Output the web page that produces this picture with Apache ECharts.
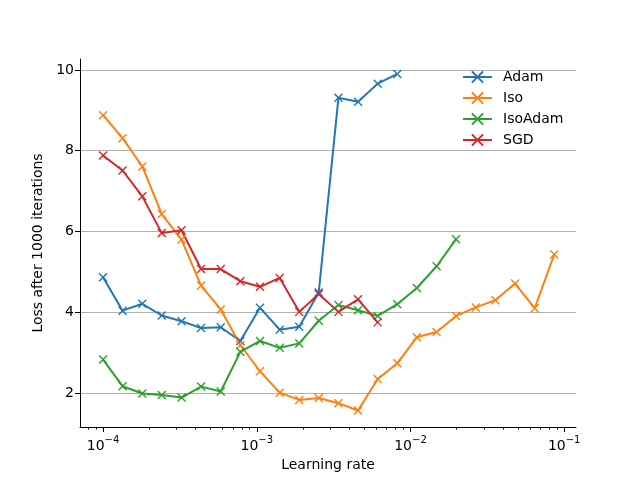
<!DOCTYPE html>
<html>
<head>
<meta charset="utf-8">
<script src="https://cdn.jsdelivr.net/npm/echarts@6/dist/echarts.min.js"></script>
<style>html,body{margin:0;padding:0;background:#fff}#c{width:640px;height:480px}</style>
</head>
<body>
<div id="c"></div>
<script>
const learningRates = [1.00e-4, 1.34e-4, 1.80e-4, 2.41e-4, 3.24e-4, 4.34e-4, 5.83e-4, 7.82e-4, 1.05e-3, 1.41e-3, 1.89e-3, 2.53e-3, 3.40e-3, 4.56e-3, 6.12e-3, 8.21e-3, 1.10e-2, 1.48e-2, 1.98e-2, 2.66e-2, 3.57e-2, 4.79e-2, 6.43e-2, 8.62e-2];
const adamLoss = [4.87, 4.04, 4.21, 3.92, 3.78, 3.61, 3.63, 3.29, 4.11, 3.57, 3.64, 4.49, 9.31, 9.21, 9.66, 9.90];
const isoLoss = [8.88, 8.31, 7.61, 6.43, 5.80, 4.66, 4.07, 3.19, 2.54, 2.01, 1.83, 1.88, 1.75, 1.57, 2.35, 2.74, 3.38, 3.51, 3.91, 4.12, 4.30, 4.71, 4.10, 5.43];
const isoAdamLoss = [2.83, 2.17, 1.99, 1.95, 1.89, 2.16, 2.04, 3.02, 3.29, 3.12, 3.23, 3.79, 4.18, 4.05, 3.91, 4.20, 4.60, 5.14, 5.81];
const sgdLoss = [7.88, 7.51, 6.87, 5.96, 6.03, 5.07, 5.07, 4.77, 4.63, 4.85, 4.01, 4.45, 4.01, 4.32, 3.75];
const seriesNames = ['Adam', 'Iso', 'IsoAdam', 'SGD'];
const seriesColors = ['#1f77b4', '#ff7f0e', '#2ca02c', '#d62728'];
const yTicks = [2, 4, 6, 8, 10];
const xMajorTicks = [1e-4, 1e-3, 1e-2, 1e-1];
const xMinorTicks = [8e-5, 9e-5, 2e-4, 3e-4, 4e-4, 5e-4, 6e-4, 7e-4, 8e-4, 9e-4, 2e-3, 3e-3, 4e-3, 5e-3, 6e-3, 7e-3, 8e-3, 9e-3, 2e-2, 3e-2, 4e-2, 5e-2, 6e-2, 7e-2, 8e-2, 9e-2];

const allLoss = [adamLoss, isoLoss, isoAdamLoss, sgdLoss];
const FONT = 'DejaVu Sans';
const X_SYM = 'path://M0,0L10,10M10,0L0,10';

const series = seriesNames.map((name, i) => ({
  name: name,
  type: 'line',
  data: allLoss[i].map((v, k) => [learningRates[k], v]),
  symbol: X_SYM,
  symbolSize: 8,
  lineStyle: { color: seriesColors[i], width: 2 },
  itemStyle: { color: seriesColors[i], borderColor: seriesColors[i], borderWidth: 1.4 },
  emphasis: { disabled: true },
  animation: false
}));

const chart = echarts.init(document.getElementById('c'), null, { renderer: 'canvas' });
chart.setOption({
  backgroundColor: '#ffffff',
  animation: false,
  textStyle: { fontFamily: FONT },
  grid: { left: 80, right: 64, top: 59, bottom: 53, containLabel: false },
  legend: {
    orient: 'vertical',
    left: 457,
    top: 65,
    itemWidth: 29,
    itemHeight: 14,
    itemGap: 7,
    data: seriesNames,
    textStyle: { fontFamily: FONT, fontSize: 14, color: '#000', padding: [0, 0, 0, 6] }
  },
  xAxis: [{
    type: 'log',
    logBase: 10,
    min: 7.08e-5,
    max: 0.1194,
    name: 'Learning rate',
    nameLocation: 'middle',
    nameGap: 28,
    nameTextStyle: { fontFamily: FONT, fontSize: 14, color: '#000' },
    axisLine: { lineStyle: { color: '#000', width: 1 } },
    axisTick: { length: 5, lineStyle: { color: '#000' }, customValues: xMajorTicks },
    axisLabel: {
      customValues: xMajorTicks,
      margin: 8,
      formatter: function (v) {
        const e = Math.round(Math.log10(v));
        return '{b|10}{s|\u2212' + Math.abs(e) + '}';
      },
      rich: {
        b: { fontFamily: FONT, fontSize: 14, color: '#000', lineHeight: 18, verticalAlign: 'bottom' },
        s: { fontFamily: FONT, fontSize: 10, color: '#000', lineHeight: 18, verticalAlign: 'top', padding: [0, 0, 6, 0] }
      }
    },
    splitLine: { show: false },
    minorTick: { show: false }
  }, {
    type: 'log',
    logBase: 10,
    min: 7.08e-5,
    max: 0.1194,
    position: 'bottom',
    gridIndex: 0,
    axisLine: { show: false },
    axisTick: { length: 2.5, lineStyle: { color: '#000' }, customValues: xMinorTicks },
    axisLabel: { show: false },
    splitLine: { show: false }
  }],
  yAxis: {
    type: 'value',
    min: 1.16,
    max: 10.27,
    name: 'Loss after 1000 iterations',
    nameLocation: 'middle',
    nameGap: 33,
    nameRotate: 90,
    nameTextStyle: { fontFamily: FONT, fontSize: 14, color: '#000' },
    axisLine: { show: true, lineStyle: { color: '#000', width: 1 } },
    axisTick: { show: true, length: 5, lineStyle: { color: '#000' }, customValues: yTicks },
    axisLabel: { customValues: yTicks, fontFamily: FONT, fontSize: 14, color: '#000', margin: 6 },
    splitLine: { show: true, lineStyle: { color: '#b0b0b0', width: 1 } }
  },
  series: series
});
</script>
</body>
</html>
